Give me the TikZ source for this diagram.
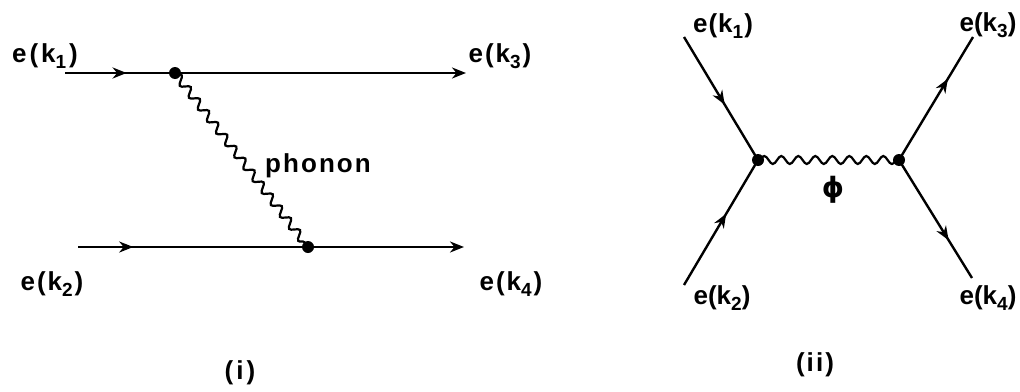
\documentclass[tikz,border=0pt]{standalone}
\usepackage{fontspec}
\setmainfont{Liberation Sans}[LetterSpace=8]
\newfontfamily\phifont{DejaVu Sans}
\usetikzlibrary{decorations.pathmorphing,decorations.markings,arrows.meta}
\newcommand{\ek}[2]{e\hspace{#2}(\hspace{#2}k\raisebox{-6pt}{\fontsize{19}{19}\selectfont #1}\hspace{#2})}
\begin{document}
\begin{tikzpicture}[x=1pt,y=-1pt,
  lbl/.style={inner sep=0pt, font=\fontsize{26}{28}\selectfont\bfseries},
  fline/.style={line width=2.4pt},
  midarrow/.style={postaction={decorate}, decoration={markings,
      mark=at position #1 with {\arrow{Stealth[length=14pt,width=11pt,inset=4.5pt]}}}},
  endarrow/.style={-{Stealth[length=14pt,width=11pt,inset=4.5pt]}},
  vtx/.style={circle, fill=black, inner sep=0pt, minimum size=12pt},
  phonon/.style={line width=2.2pt, decorate, decoration={snake, segment length=15pt, amplitude=4pt, pre length=1pt, post length=1pt}}]
\useasboundingbox (0,0) rectangle (1020,391);
% ---------- diagram (i) ----------
\coordinate (a1) at (65,73);
\coordinate (a3) at (466,73);
\coordinate (a2) at (78,247);
\coordinate (a4) at (464,247);
\node[vtx] (va) at (175,73) {};
\node[vtx] (vb) at (308,247) {};
\draw[fline, midarrow=0.56] (a1) -- (va.center);
\draw[fline, endarrow] (va.center) -- (a3);
\draw[fline, midarrow=0.24] (a2) -- (vb.center);
\draw[fline, endarrow] (vb.center) -- (a4);
\draw[phonon] (va.center) -- (vb.center);
\node[lbl] (la1) at (45,56) {\ek{1}{3pt}};
\node[lbl] (la3) at (500,56) {\ek{3}{2pt}};
\node[lbl] (la2) at (52,284) {\ek{2}{2pt}};
\node[lbl] (la4) at (511,284) {\ek{4}{2pt}};
\node[lbl] (lph) at (318,166) {phonon};
\node[lbl] (li) at (240,373) {(\hspace{3pt}i\hspace{3pt})};
% ---------- diagram (ii) ----------
\coordinate (b1) at (684,37);
\coordinate (b2) at (684,285);
\coordinate (b3) at (973,37);
\coordinate (b4) at (972,278);
\node[vtx] (vc) at (758,160) {};
\node[vtx] (vd) at (899,160) {};
\draw[fline, midarrow=0.55] (b1) -- (vc.center);
\draw[fline, midarrow=0.57] (b2) -- (vc.center);
\draw[fline, midarrow=0.66] (vd.center) -- (b3);
\draw[fline, midarrow=0.68] (vd.center) -- (b4);
\draw[phonon, segment length=17pt] (vc.center) -- (vd.center);
\node[lbl] (lb1) at (723,26) {\ek{1}{1pt}};
\node[lbl] (lb3) at (988,25) {\ek{3}{0pt}};
\node[lbl] (lb2) at (722,298) {\ek{2}{0pt}};
\node[lbl] (lb4) at (988,298) {\ek{4}{0pt}};
\node[lbl, font=\fontsize{28}{30}\selectfont\phifont\bfseries] (lphi) at (833,190) {ϕ};
\node[lbl] (lii) at (815,365) {(\hspace{2pt}ii\hspace{2pt})};
\end{tikzpicture}
\end{document}
